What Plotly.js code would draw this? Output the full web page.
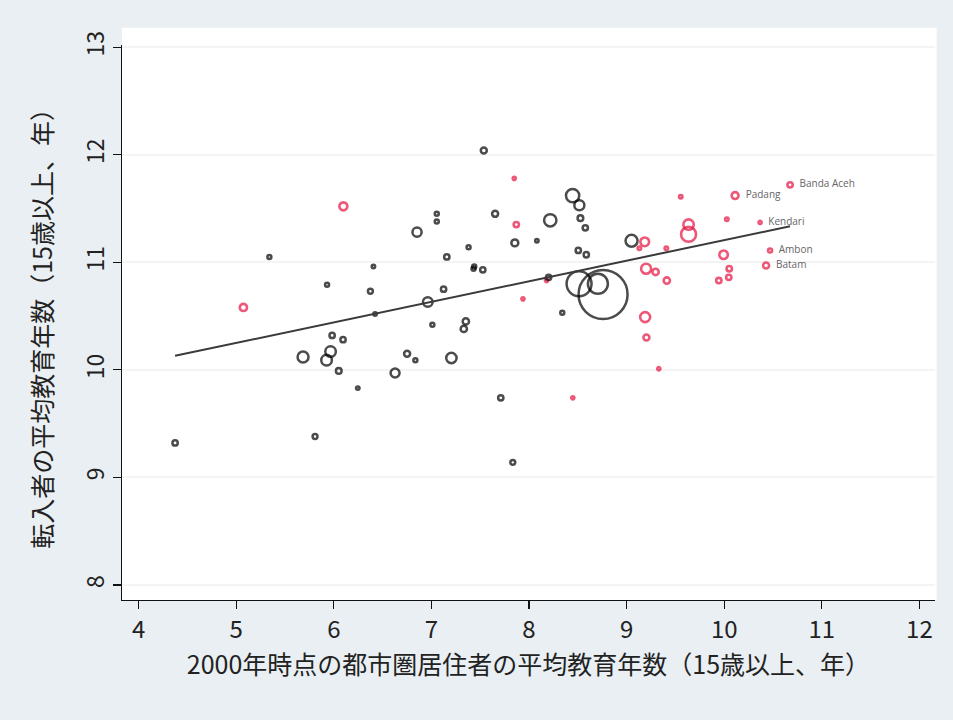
<!DOCTYPE html>
<html>
<head>
<meta charset="utf-8">
<script src="https://cdn.plot.ly/plotly-3.0.1.min.js"></script>
<style>html,body{margin:0;padding:0;background:#e9eff2;}#chart{width:953px;height:720px;}</style>
</head>
<body>
<div id="chart"></div>
<script>
// Black: other metropolitan areas
const blackX = [4.374,5.340,5.685,5.931,5.967,5.926,5.983,6.095,6.051,6.246,5.808,6.406,6.375,6.423,6.628,6.751,6.836,6.853,6.963,7.010,7.055,7.055,7.125,7.158,7.205,7.353,7.332,7.381,7.432,7.439,7.527,7.537,7.653,7.711,7.834,7.855,8.081,8.201,8.218,8.341,8.447,8.516,8.527,8.577,8.505,8.587,8.513,8.706,8.759,9.051];
const blackY = [9.32,11.05,10.12,10.79,10.17,10.09,10.32,10.28,9.99,9.83,9.38,10.96,10.73,10.52,9.97,10.15,10.09,11.28,10.63,10.42,11.45,11.38,10.75,11.05,10.11,10.45,10.38,11.14,10.94,10.96,10.93,12.04,11.45,9.74,9.14,11.18,11.20,10.86,11.39,10.53,11.62,11.53,11.41,11.32,11.11,11.07,10.80,10.80,10.70,11.20];
const blackPop = [7,4,30,4,28,28,7,7,8,3,6,3,6,3,20,9,4,21,23,4,4,4,7,7,27,10,10,4,4,4,7,9,9,7,6,12,3,7,38,4,44,25,8,7,7,7,156,100,600,36];

// Red: Indonesian metropolitan areas
const redX = [5.074,6.098,7.849,7.870,8.180,7.938,8.449,9.186,9.131,9.407,9.200,9.297,9.412,9.190,9.203,9.330,9.555,9.635,9.635,10.027,9.994,10.052,10.047,9.945];
const redY = [10.58,11.52,11.78,11.35,10.83,10.66,9.74,11.19,11.13,11.13,10.94,10.91,10.83,10.49,10.30,10.01,11.61,11.35,11.26,11.40,11.07,10.94,10.86,10.83];
const redPop = [13,16,2.5,7,2.5,2.5,2.5,19,3,3,25,10,10,25,9,2.5,3,27,56,3,18,7,7,7];

// Labeled Indonesian cities
const labelNames = ["Banda Aceh","Padang","Kendari","Ambon","Batam"];
const labelX = [10.675,10.112,10.368,10.470,10.429];
const labelY = [11.72,11.62,11.37,11.11,10.97];
const labelPop = [7,12,2.5,4,9];

// Fitted line endpoints
const fitX = [4.374, 10.675];
const fitY = [10.13, 11.335];

const xTicks = [4,5,6,7,8,9,10,11,12];
const yTicks = [8,9,10,11,12,13];

const xTitle = "2000年時点の都市圏居住者の平均教育年数（15歳以上、年）";
const yTitle = "転入者の平均教育年数（15歳以上、年）";

const RED = "#e6123f";
const mk = (color, sizes, w) => ({
  symbol: "circle", color: "rgba(0,0,0,0)", size: sizes,
  sizemode: "area", sizeref: 0.5,
  line: {color: color, width: w}
});

const traces = [
  {x: redX, y: redY, type: "scatter", mode: "markers", marker: mk(RED, redPop, 2.6), hoverinfo: "x+y", showlegend: false},
  {x: labelX, y: labelY, text: labelNames.map(s => "\u00a0\u00a0" + s), type: "scatter", mode: "markers+text", textposition: "middle right",
   textfont: {family: "Open Sans, DejaVu Sans, sans-serif", size: 10, color: "#666"},
   marker: mk(RED, labelPop, 2.6), showlegend: false},
  {x: blackX, y: blackY, type: "scatter", mode: "markers", marker: mk("#000", blackPop, 2.5), showlegend: false},
  {x: fitX, y: fitY, type: "scatter", mode: "lines", line: {color: "#3a3a3a", width: 2}, showlegend: false, hoverinfo: "skip"}
];

const layout = {
  width: 953, height: 720,
  paper_bgcolor: "#e9eff2",
  plot_bgcolor: "#ffffff",
  margin: {l: 122, r: 18, t: 45, b: 120},
  font: {family: "Noto Sans CJK JP, sans-serif", color: "#222"},
  shapes: [{type: "rect", xref: "paper", yref: "paper", x0: 0, x1: 1.002, y0: 0, y1: 1.031,
            fillcolor: "#ffffff", line: {width: 0}, layer: "below"}],
  xaxis: {
    range: [3.83, 12.16], tickvals: xTicks, ticktext: xTicks.map(String),
    showline: true, linecolor: "#111", linewidth: 1.2, mirror: false,
    ticks: "outside", ticklen: 8, tickcolor: "#111", tickwidth: 1.2,
    showgrid: false, zeroline: false,
    tickfont: {family: "Noto Sans CJK JP", size: 24, color: "#222"},
    title: {text: xTitle, font: {family: "Noto Sans CJK JP", size: 25, color: "#222"}, standoff: 12}
  },
  yaxis: {
    range: [7.86, 13.02], tickvals: yTicks, ticktext: yTicks.map(String), tickangle: -90,
    showline: true, linecolor: "#111", linewidth: 1.2,
    ticks: "outside", ticklen: 8, tickcolor: "#111", tickwidth: 1.2,
    showgrid: true, gridcolor: "#f4f4f4", gridwidth: 2, zeroline: false,
    tickfont: {family: "Noto Sans CJK JP", size: 23, color: "#222"},
    title: {text: yTitle, font: {family: "Noto Sans CJK JP", size: 25, color: "#222"}, standoff: 16}
  }
};

Plotly.newPlot("chart", traces, layout, {displayModeBar: false, staticPlot: true});
</script>
</body>
</html>
